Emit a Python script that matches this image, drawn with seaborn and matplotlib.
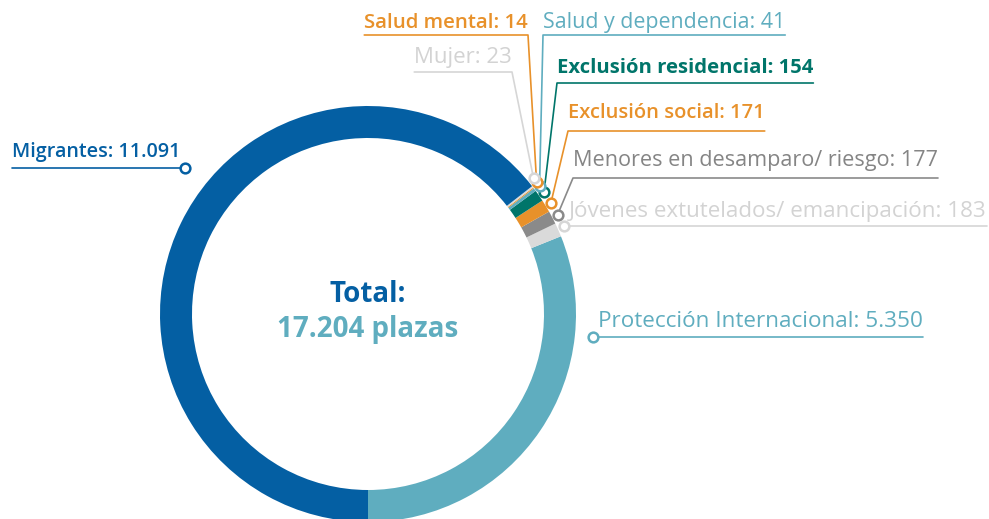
import numpy as np
import matplotlib.pyplot as plt
import seaborn as sns

# datos
categorias = ['Protección Internacional', 'Jóvenes extutelados/ emancipación',
              'Menores en desamparo/ riesgo', 'Exclusión social', 'Exclusión residencial',
              'Salud y dependencia', 'Salud mental', 'Mujer', 'Migrantes']
plazas = [5350, 183, 177, 171, 154, 41, 14, 23, 11091]
valores_txt = ['5.350', '183', '177', '171', '154', '41', '14', '23', '11.091']
colores = ['#5FADBF', '#DADADA', '#8A8A8A', '#E8912A', '#00756A',
           '#5FADBF', '#E8912A', '#DADADA', '#045FA3']
colores_txt = ['#5FADBF', '#D3D3D3', '#858585', '#E8912A', '#00756A',
               '#5FADBF', '#E8912A', '#D3D3D3', '#045FA3']
pesos = ['normal', 'normal', 'normal', 'semibold', 'bold',
         'normal', 'semibold', 'normal', 'semibold']
tamanos = [16.2, 16.1, 15.6, 14.5, 14.6, 15.4, 14.7, 16.0, 14.2]
total_txt = '17.204 plazas'

sns.set_theme(style='white')
plt.rcParams['font.family'] = ['Open Sans', 'DejaVu Sans']

W, H = 989, 519
fig = plt.figure(figsize=(W / 100, H / 100), dpi=100)
ax = fig.add_axes([0, 0, 1, 1])

# geometria del anillo (pixeles, y hacia abajo en la imagen)
cx, cy = 368, H - 314
r_ext, ancho = 208, 32

ax.pie(plazas, colors=colores, startangle=-90, counterclock=True,
       radius=r_ext, center=(cx, cy),
       wedgeprops=dict(width=ancho, linewidth=0))
ax.set_xlim(0, W)
ax.set_ylim(0, H)
ax.set_aspect('equal')
ax.axis('off')

# angulo medio de cada porcion, con separacion minima para las pequenas
frac = np.array(plazas) / sum(plazas) * 360
inicio = -90 + np.concatenate([[0], np.cumsum(frac)[:-1]])
medio = inicio + frac / 2
ang = medio.copy()
for i in range(2, 8):
    ang[i] = max(medio[i], ang[i - 1] + 1.3)

# posicion de cada etiqueta: x, linea base, y de la raya, lado del codo
txt_x = [598, 569, 573, 568, 557, 543, 528, 512, 180]
txt_y = [327, 217, 166, 118, 73, 28, 28, 63, 157]
raya_y = [337, 226, 178, 131, 83, 35, 35, 72, 168]
lado = ['left', 'left', 'left', 'left', 'left', 'left', 'right', 'right', 'right']

fig.canvas.draw()
rend = fig.canvas.get_renderer()
inv = ax.transData.inverted()

for i, cat in enumerate(categorias):
    t = ax.text(txt_x[i], H - txt_y[i], f'{cat}: {valores_txt[i]}',
                ha=lado[i], va='baseline', fontsize=tamanos[i],
                fontweight=pesos[i], color=colores_txt[i])
    bb = t.get_window_extent(rend).transformed(inv)
    y_r = H - raya_y[i]
    col = colores[i] if colores[i] != '#DADADA' else '#D6D6D6'
    if i in (0, 1):
        # marcador al inicio de la raya
        mx, my = txt_x[i] - 5, y_r
        ax.plot([mx, bb.x1], [y_r, y_r], color=col, lw=1.2, zorder=3)
    elif i == 8:
        mx, my = txt_x[i] + 5, y_r
        ax.plot([bb.x0, mx], [y_r, y_r], color=col, lw=1.2, zorder=3)
    else:
        mx = cx + 214 * np.cos(np.radians(ang[i]))
        my = cy + 214 * np.sin(np.radians(ang[i]))
        codo = txt_x[i]
        if lado[i] == 'left':
            ax.plot([mx, codo, bb.x1], [my, y_r, y_r], color=col, lw=1.2, zorder=3)
        else:
            ax.plot([bb.x0, codo, mx], [y_r, y_r, my], color=col, lw=1.2, zorder=3)
    ax.plot(mx, my, marker='o', ms=7, mfc='white', mec=col, mew=1.8, zorder=4)

# texto central
ax.text(cx, H - 302, 'Total:', ha='center', va='baseline', fontsize=20,
        fontweight='bold', color='#045FA3')
ax.text(cx, H - 337, total_txt, ha='center', va='baseline', fontsize=20,
        fontweight='bold', color='#5FADBF')

fig.savefig('out.png', dpi=100)
